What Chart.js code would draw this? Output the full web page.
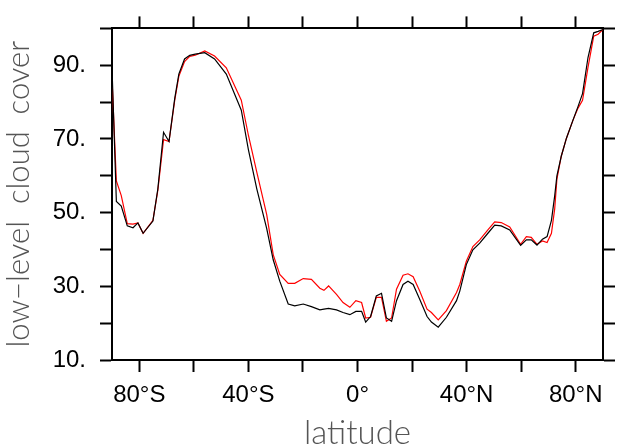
<!DOCTYPE html>
<html>
<head>
<meta charset="utf-8">
<script src="https://cdn.jsdelivr.net/npm/chart.js@4/dist/chart.umd.min.js"></script>
<style>
html,body{margin:0;padding:0;background:#fff;}
#wrap{width:620px;height:444px;}
</style>
</head>
<body>
<div id="wrap"><canvas id="c" width="620" height="444"></canvas></div>
<script>
const lats = [-90, -88.4, -86.6, -84.4, -82.3, -80.5, -78.6, -75.0, -73.2, -71.1, -69.1, -67.0, -65.5, -63.4, -61.5, -59.5, -56.0, -52.4, -48.1, -42.6, -40.0, -36.9, -33.3, -30.9, -28.5, -25.4, -23.0, -19.9, -16.9, -13.8, -12.3, -10.6, -7.7, -5.3, -2.8, -0.6, 1.5, 3.0, 4.8, 6.9, 8.8, 10.6, 12.5, 14.3, 16.7, 18.5, 20.4, 22.8, 25.5, 27.1, 29.6, 32.6, 36.3, 37.5, 39.9, 42.3, 44.8, 47.8, 50.3, 52.7, 55.8, 59.8, 61.9, 63.7, 65.8, 67.8, 69.5, 71.1, 72.3, 73.1, 74.7, 76.6, 79.0, 80.8, 82.5, 84.5, 86.6, 88.2, 90];

const blackSeries = [89.4, 53.0, 51.8, 46.4, 45.9, 47.2, 44.4, 47.7, 56.4, 71.8, 69.3, 81.0, 87.6, 91.7, 92.7, 93.0, 93.4, 91.7, 87.6, 77.8, 67.1, 56.4, 45.7, 37.2, 31.4, 25.2, 24.7, 25.2, 24.5, 23.6, 23.8, 24.0, 23.6, 22.9, 22.3, 23.2, 23.2, 20.3, 21.8, 27.4, 28.1, 21.4, 20.5, 26.1, 30.5, 31.4, 30.5, 26.5, 21.8, 20.3, 18.9, 21.6, 26.1, 28.7, 35.9, 39.9, 41.7, 44.4, 46.6, 46.4, 45.3, 41.1, 42.6, 42.6, 41.2, 42.8, 43.5, 47.9, 54.6, 60.0, 65.3, 70.2, 75.1, 78.7, 82.3, 92.1, 98.8, 99.2, 99.7];

const redSeries = [86.3, 58.6, 54.6, 47.0, 46.9, 47.2, 44.4, 47.9, 56.0, 69.8, 69.3, 80.5, 87.0, 91.0, 92.4, 92.7, 93.9, 92.5, 89.3, 80.5, 71.0, 60.9, 49.5, 38.6, 33.2, 30.8, 30.8, 32.1, 31.9, 29.5, 28.9, 30.1, 27.8, 25.6, 24.3, 26.1, 25.6, 21.4, 21.6, 27.0, 27.0, 20.5, 21.4, 29.2, 33.0, 33.4, 32.6, 28.7, 23.8, 22.9, 20.9, 23.4, 28.3, 30.5, 36.8, 40.8, 42.6, 45.3, 47.5, 47.3, 46.1, 41.4, 43.5, 43.3, 41.4, 42.3, 41.9, 44.4, 51.1, 59.1, 65.3, 70.2, 75.1, 78.3, 80.5, 89.4, 97.9, 98.4, 99.7];

const xTickValues = [-80, -60, -40, -20, 0, 20, 40, 60, 80];
const xTickLabels = {"-80": "80°S", "-40": "40°S", "0": "0°", "40": "40°N", "80": "80°N"};
const yLabelValues = [10, 30, 50, 70, 90];

const toPts = (ys) => lats.map((x, i) => ({x: x, y: ys[i]}));

const gridCfg = {drawOnChartArea: false, drawTicks: true, tickLength: 12, tickWidth: 2, tickColor: '#000'};
const borderCfg = {display: true, width: 2, color: '#000'};
const tickFont = {family: "'Liberation Sans', Arial, sans-serif", size: 24};
const xTitleFont = {family: "Lato, 'Liberation Sans', sans-serif", size: 33, weight: '300', lineHeight: 1};
const yTitleFont = {family: "Lato, 'Liberation Sans', sans-serif", size: 31, weight: '300', lineHeight: 1};

const setXTicks = (scale) => { scale.ticks = xTickValues.map(v => ({value: v})); };

new Chart(document.getElementById('c'), {
  type: 'line',
  data: {
    datasets: [
      {data: toPts(blackSeries), borderColor: '#000', borderWidth: 1.2, pointRadius: 0, tension: 0, fill: false},
      {data: toPts(redSeries), borderColor: '#ff0000', borderWidth: 1.2, pointRadius: 0, tension: 0, fill: false}
    ]
  },
  options: {
    responsive: false,
    devicePixelRatio: 1,
    animation: false,
    layout: {padding: 0},
    plugins: {legend: {display: false}, tooltip: {enabled: false}},
    scales: {
      x: {
        type: 'linear', position: 'bottom', min: -90, max: 90,
        afterBuildTicks: setXTicks,
        afterFit: (s) => { s.height = 84; },
        grid: gridCfg, border: borderCfg,
        ticks: {autoSkip: false, maxRotation: 0, padding: 9, color: '#000', font: tickFont,
          callback: (v) => xTickLabels[String(v)] || ''},
        title: {display: true, text: 'latitude', color: '#555', font: xTitleFont, padding: {top: 0, bottom: -6}}
      },
      x2: {
        type: 'linear', position: 'top', min: -90, max: 90,
        afterBuildTicks: setXTicks,
        afterFit: (s) => { s.height = 24; },
        grid: gridCfg, border: borderCfg,
        ticks: {display: false}
      },
      y: {
        type: 'linear', position: 'left', min: 10, max: 100,
        afterFit: (s) => { s.width = 112; },
        grid: gridCfg, border: borderCfg,
        ticks: {stepSize: 10, autoSkip: false, padding: 14, color: '#000', font: tickFont,
          callback: (v) => yLabelValues.includes(v) ? v + '.' : ''},
        title: {display: true, text: 'low−level  cloud  cover', color: '#555', font: yTitleFont, padding: {top: 3, bottom: 0}}
      },
      y2: {
        type: 'linear', position: 'right', min: 10, max: 100,
        afterFit: (s) => { s.width = 17; },
        grid: gridCfg, border: borderCfg,
        ticks: {stepSize: 10, display: false}
      }
    }
  }
});
</script>
</body>
</html>
